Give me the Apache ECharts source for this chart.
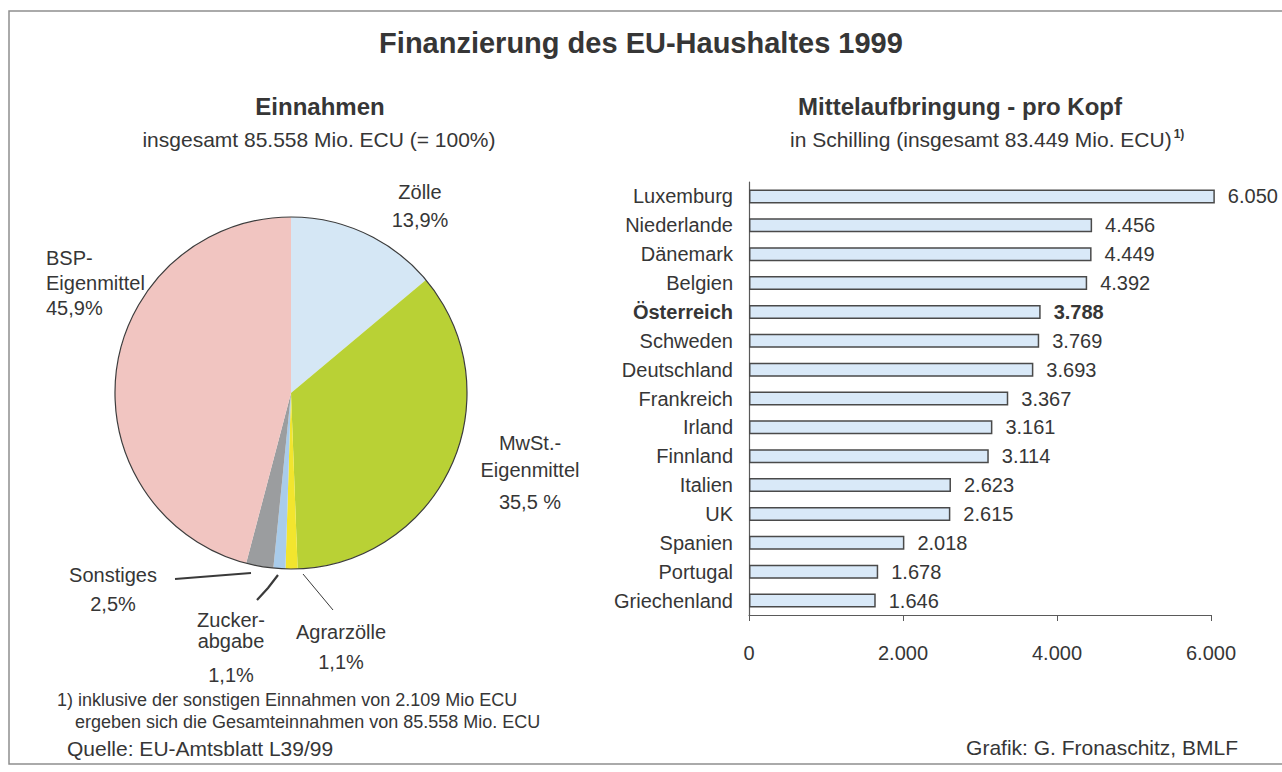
<!DOCTYPE html>
<html>
<head>
<meta charset="utf-8">
<title>Finanzierung des EU-Haushaltes 1999</title>
<script src="https://cdn.jsdelivr.net/npm/echarts@6.0.0/dist/echarts.min.js"></script>
<style>
  html, body { margin: 0; padding: 0; background: #fff; }
  #chart { width: 1282px; height: 772px; }
</style>
</head>
<body>
<div id="chart"></div>
<script>
// Einnahmen (Kreisdiagramm), Anteile in %
const pieNames = ['Zölle', 'MwSt.-\nEigenmittel', 'Agrarzölle', 'Zucker-\nabgabe', 'Sonstiges', 'BSP-\nEigenmittel'];
const pieValues = [13.9, 35.5, 1.1, 1.1, 2.5, 45.9];
const pieColors = ['#d5e7f5', '#b9d135', '#f2e52e', '#a9cceb', '#9b9d9f', '#f1c5c1'];

// Mittelaufbringung pro Kopf in Schilling
const countries = ['Luxemburg', 'Niederlande', 'Dänemark', 'Belgien', 'Österreich', 'Schweden',
  'Deutschland', 'Frankreich', 'Irland', 'Finnland', 'Italien', 'UK', 'Spanien', 'Portugal', 'Griechenland'];
const perCapita = [6050, 4456, 4449, 4392, 3788, 3769, 3693, 3367, 3161, 3114, 2623, 2615, 2018, 1678, 1646];
const highlight = 'Österreich';
const xTicks = [0, 2000, 4000, 6000];

const font = "'Liberation Sans', Arial, sans-serif";
const ink = '#363636';

// 85558 -> "85.558"
const de = v => String(v).replace(/\B(?=(\d{3})+(?!\d))/g, '.');
const pct = v => v.toFixed(1).replace('.', ',');

// Beschriftung der Kreissegmente: Lage (Mitte) und Zeilenabstand
const pieLabelPos = [
  { x: 420, y: 206, align: 'center', lh: 28, ph: 28 },
  { x: 530, y: 475, align: 'center', lh: 27, ph: 37, unit: ' %' },
  { x: 341, y: 647, align: 'center', lh: 30, ph: 30, line: [[303, 574], [318, 592], [333, 610]], lw: 1 },
  { x: 231, y: 654, align: 'center', lh: 21, ph: 47, line: [[278, 575], [268, 588], [257, 600]], lw: 2.2 },
  { x: 113, y: 589, align: 'center', lh: 29, ph: 29, line: [[251, 573], [213, 576], [175, 579]], lw: 2.2 },
  { x: 46, y: 283, align: 'left', lh: 25, ph: 25 }
];

const chart = echarts.init(document.getElementById('chart'), null, { renderer: 'svg' });

const pieData = pieNames.map((n, i) => {
  const p = pieLabelPos[i];
  return {
    name: n,
    value: pieValues[i],
    itemStyle: { color: pieColors[i] },
    label: {
      align: p.align,
      rich: {
        n: { fontSize: 20, lineHeight: p.lh, color: ink, fontFamily: font, align: p.align },
        p: { fontSize: 20, lineHeight: p.ph, color: ink, fontFamily: font, align: p.align }
      }
    },
    labelLine: p.line ? { show: true, lineStyle: { color: '#3a3a3a', width: p.lw } } : { show: false }
  };
});

const barData = perCapita.map((v, i) => countries[i] === highlight
  ? { value: v, label: { fontWeight: 'bold' } }
  : v);

const option = {
  animation: false,
  backgroundColor: '#fff',
  textStyle: { fontFamily: font, color: ink },
  title: [
    { text: 'Finanzierung des EU-Haushaltes 1999', left: 641, top: 28, padding: 0, textAlign: 'center',
      textStyle: { fontSize: 29, fontWeight: 'bold', color: ink, fontFamily: font } },
    { text: 'Einnahmen', left: 320, top: 94, padding: 0, textAlign: 'center',
      textStyle: { fontSize: 24, fontWeight: 'bold', color: ink, fontFamily: font } },
    { text: 'insgesamt 85.558 Mio. ECU (= 100%)', left: 319, top: 129, padding: 0, textAlign: 'center',
      textStyle: { fontSize: 21, fontWeight: 'normal', color: ink, fontFamily: font } },
    { text: 'Mittelaufbringung - pro Kopf', left: 960, top: 94, padding: 0, textAlign: 'center',
      textStyle: { fontSize: 24, fontWeight: 'bold', color: ink, fontFamily: font } },
    { text: '{a|in Schilling (insgesamt 83.449 Mio. ECU)}{s|1)}', left: 790, top: 128, padding: 0, textAlign: 'left',
      textStyle: {
        fontWeight: 'normal',
        rich: {
          a: { fontSize: 21, fontWeight: 'normal', color: ink, fontFamily: font },
          s: { fontSize: 12, color: ink, fontFamily: font, fontWeight: 'bold', verticalAlign: 'top', padding: [0, 0, 10, 2] }
        }
      } }
  ],
  graphic: [
    { type: 'rect', silent: true, z: -10,
      shape: { x: 9, y: 11, width: 1300, height: 753 },
      style: { fill: 'none', stroke: '#8e8e8e', lineWidth: 1.5 } },
    { type: 'text', x: 57, y: 700, style: { text: '1) inklusive der sonstigen Einnahmen von 2.109 Mio ECU',
      fill: ink, font: '18px ' + font, textVerticalAlign: 'middle' } },
    { type: 'text', x: 75, y: 722, style: { text: 'ergeben sich die Gesamteinnahmen von 85.558 Mio. ECU',
      fill: ink, font: '18px ' + font, textVerticalAlign: 'middle' } },
    { type: 'text', x: 67, y: 748, style: { text: 'Quelle: EU-Amtsblatt L39/99',
      fill: ink, font: '21px ' + font, textVerticalAlign: 'middle' } },
    { type: 'text', x: 1238, y: 747, style: { text: 'Grafik: G. Fronaschitz, BMLF',
      fill: ink, font: '21px ' + font, textAlign: 'right', textVerticalAlign: 'middle' } }
  ],
  grid: { left: 749, right: 71, top: 182, bottom: 157, containLabel: false },
  xAxis: {
    type: 'value',
    min: xTicks[0],
    max: xTicks[xTicks.length - 1],
    interval: xTicks[1] - xTicks[0],
    axisLine: { show: true, lineStyle: { color: '#5a5a5a', width: 1.2 } },
    axisTick: { show: true, length: 6, lineStyle: { color: '#5a5a5a' } },
    splitLine: { show: false },
    axisLabel: { fontSize: 20, color: ink, margin: 28, formatter: v => de(v) }
  },
  yAxis: {
    type: 'category',
    data: countries,
    inverse: true,
    axisLine: { show: true, lineStyle: { color: '#5a5a5a', width: 1.2 } },
    axisTick: { show: false },
    axisLabel: {
      fontSize: 20, color: ink, margin: 16,
      formatter: v => v === highlight ? '{b|' + v + '}' : v,
      rich: { b: { fontSize: 20, fontWeight: 'bold', color: ink, fontFamily: font } }
    }
  },
  series: [
    {
      type: 'pie',
      center: [291, 393],
      radius: 176,
      startAngle: 90,
      clockwise: true,
      data: pieData,
      itemStyle: { borderWidth: 0 },
      emphasis: { disabled: true },
      label: {
        show: true,
        position: 'outside',
        overflow: 'none',
        formatter: p => {
          const u = pieLabelPos[p.dataIndex].unit || '%';
          const lines = p.name.split('\n').map(s => '{n|' + s + '}');
          return lines.join('\n') + '\n{p|' + pct(p.value) + u + '}';
        }
      },
      labelLayout: params => {
        const p = pieLabelPos[params.dataIndex];
        const res = { x: p.x, y: p.y, align: p.align, verticalAlign: 'middle' };
        if (p.line) res.labelLinePoints = p.line;
        return res;
      }
    },
    {
      // Umriss des Kreises
      type: 'pie',
      center: [291, 393],
      radius: 176,
      silent: true,
      data: [{ value: 1, name: 'Umriss' }],
      itemStyle: { color: 'rgba(0,0,0,0)', borderColor: '#3c3c3c', borderWidth: 1.2 },
      label: { show: false },
      labelLine: { show: false },
      emphasis: { disabled: true }
    },
    {
      type: 'bar',
      data: barData,
      barWidth: 14,
      clip: false,
      itemStyle: { color: '#d9e9f8', borderColor: '#4a4a4a', borderWidth: 1.5 },
      emphasis: { disabled: true },
      label: {
        show: true,
        position: 'right',
        distance: 13,
        fontSize: 20,
        color: ink,
        formatter: p => de(p.value)
      }
    }
  ]
};

chart.setOption(option);
</script>
</body>
</html>
